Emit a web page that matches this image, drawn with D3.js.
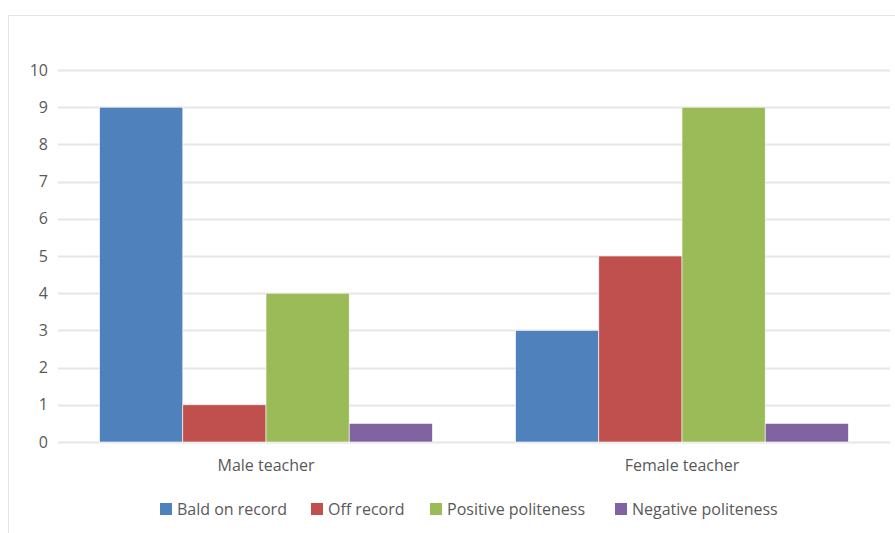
<!DOCTYPE html>
<html>
<head>
<meta charset="utf-8">
<script src="https://cdn.jsdelivr.net/npm/d3@7"></script>
<style>
  html, body { margin: 0; padding: 0; background: #fff; }
  svg { display: block; }
  text { font-family: "Open Sans", "DejaVu Sans", sans-serif; fill: #595959; }
</style>
</head>
<body>
<svg id="chart" width="895" height="533"></svg>
<script>
// Data
const categories = ["Male teacher", "Female teacher"];
const seriesNames = ["Bald on record", "Off record", "Positive politeness", "Negative politeness"];
const baldOnRecord = [9, 3];
const offRecord = [1, 5];
const positivePoliteness = [4, 9];
const negativePoliteness = [0.5, 0.5];
const yTicks = [0, 1, 2, 3, 4, 5, 6, 7, 8, 9, 10];

const seriesValues = [baldOnRecord, offRecord, positivePoliteness, negativePoliteness];
const colors = ["#4F81BD", "#C0504D", "#9BBB59", "#8064A2"];

const svg = d3.select("#chart");

// chart frame
svg.append("rect")
  .attr("x", 8.5).attr("y", 15.5)
  .attr("width", 950).attr("height", 600)
  .attr("fill", "#fff").attr("stroke", "#e3e3e3").attr("stroke-width", 1);

const plot = { left: 58, right: 890, top: 70, bottom: 442 };

const x0 = d3.scaleBand()
  .domain(categories)
  .range([plot.left, plot.right])
  .paddingInner(0.2)
  .paddingOuter(0.1);

const x1 = d3.scaleBand()
  .domain(seriesNames)
  .range([0, x0.bandwidth()]);

const y = d3.scaleLinear().domain([0, 10]).range([plot.bottom, plot.top]);

// gridlines
svg.append("g")
  .selectAll("line")
  .data(yTicks)
  .join("line")
  .attr("x1", plot.left).attr("x2", plot.right)
  .attr("y1", d => Math.round(y(d)) + 0.5).attr("y2", d => Math.round(y(d)) + 0.5)
  .attr("stroke", "#e6e6e6").attr("stroke-width", 2);

// y axis labels
const yAxis = d3.axisLeft(y).tickValues(yTicks).tickSize(0).tickPadding(0);
const yg = svg.append("g").attr("transform", `translate(${plot.left - 10},0)`).call(yAxis);
yg.select(".domain").remove();
yg.selectAll("text").style("font-size", "16px").attr("fill", "#595959");

// bars
const groups = svg.append("g")
  .selectAll("g")
  .data(categories)
  .join("g")
  .attr("transform", d => `translate(${x0(d)},0)`);

groups.selectAll("rect")
  .data((c, ci) => seriesNames.map((s, si) => ({ s, si, v: seriesValues[si][ci] })))
  .join("rect")
  .attr("x", d => x1(d.s))
  .attr("width", x1.bandwidth())
  .attr("y", d => y(d.v))
  .attr("height", d => y(0) - y(d.v))
  .attr("fill", d => colors[d.si])
  .attr("stroke", "#fff").attr("stroke-width", 0.6);

// category labels
const xAxis = d3.axisBottom(x0).tickSize(0).tickPadding(0);
const xg = svg.append("g").attr("transform", `translate(0,${plot.bottom + 18})`).call(xAxis);
xg.select(".domain").remove();
xg.selectAll("text").style("font-size", "16px").attr("fill", "#595959");

// legend
const legendX = [160, 311, 430, 615];
const legend = svg.append("g")
  .selectAll("g")
  .data(seriesNames)
  .join("g")
  .attr("transform", (d, i) => `translate(${legendX[i]},503)`);
legend.append("rect")
  .attr("width", 12).attr("height", 12)
  .attr("fill", (d, i) => colors[i]);
legend.append("text")
  .attr("x", 17).attr("y", 12)
  .style("font-size", "16px")
  .text(d => d);
</script>
</body>
</html>
